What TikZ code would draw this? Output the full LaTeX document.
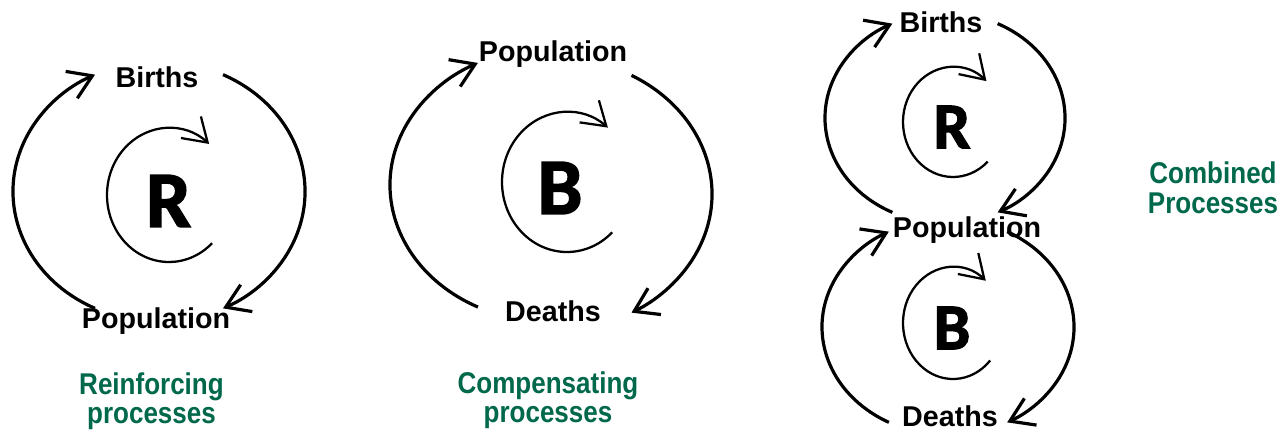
\documentclass[tikz,border=0pt]{standalone}
\usepackage{fontspec}
\setmainfont{Liberation Sans}
\newfontfamily\loopletterfont[BoldFeatures={FakeBold=2}]{Carlito}
\newfontfamily\captionfont[FakeStretch=0.867]{Liberation Sans}
\usetikzlibrary{arrows.meta}
\definecolor{capgreen}{RGB}{0,104,75}
\begin{document}
\begin{tikzpicture}[x=0.75pt,y=0.75pt,
  loophead/.style={-{Straight Barb[length=17pt,width=22pt]}},
  outerloop/.style={line width=2.4pt,loophead},
  innerloop/.style={line width=1.7pt,loophead},
  varlabel/.style={font=\fontsize{21.5}{24}\selectfont\bfseries,inner sep=0pt,anchor=base},
  caption/.style={font=\captionfont\fontsize{22.5}{22}\selectfont\bfseries,text=capgreen,inner sep=0pt,anchor=base},
  bigR/.style={font=\loopletterfont\fontsize{60}{60}\selectfont\bfseries,inner sep=0pt},
  smallR/.style={font=\loopletterfont\fontsize{49}{49}\selectfont\bfseries,inner sep=0pt}]
\useasboundingbox[fill=white] (0,0) rectangle (1280,-432);

% ---- Reinforcing loop ----
\coordinate (o1) at (159,-191.5);
\coordinate (i1) at (169,-195);
\node[varlabel] (b1) at (157,-87) {Births};
\node[varlabel] (p1) at (156,-328) {Population};
\node[bigR] (r1) at (168.5,-201) {R};
\draw[outerloop] (o1) ++(244:146 and 130) arc[start angle=244,end angle=116,x radius=146,y radius=130];
\draw[outerloop] (o1) ++(64:146 and 130) arc[start angle=64,end angle=-64,x radius=146,y radius=130];
\draw[innerloop] (i1) ++(-46:62 and 67) arc[start angle=-46,end angle=-310.4,x radius=62,y radius=67];
\node[caption] (c1a) at (151.5,-394) {Reinforcing};
\node[caption] (c1b) at (151.5,-423) {processes};

% ---- Balancing loop ----
\coordinate (o2l) at (551,-185);
\coordinate (o2r) at (551,-194);
\coordinate (i2) at (567,-182);
\node[varlabel] (p2) at (553,-61) {Population};
\node[varlabel] (d2) at (553,-321) {Deaths};
\node[bigR] (r2) at (560,-188) {B};
\draw[outerloop] (o2l) ++(243:161 and 137) arc[start angle=243,end angle=117,x radius=161,y radius=137];
\draw[outerloop] (o2r) ++(60:161 and 137) arc[start angle=60,end angle=-60,x radius=161,y radius=137];
\draw[innerloop] (i2) ++(-46:65 and 70) arc[start angle=-46,end angle=-309,x radius=65,y radius=70];
\node[caption] (c2a) at (548,-393) {Compensating};
\node[caption] (c2b) at (548,-422) {processes};

% ---- Combined loops ----
\coordinate (o3t) at (945,-118);
\coordinate (i3t) at (953,-122);
\coordinate (o3b) at (948,-327);
\coordinate (i3b) at (953,-323);
\node[varlabel] (b3) at (941,-32) {Births};
\node[varlabel] (p3) at (967,-237) {Population};
\node[varlabel] (d3) at (950,-426) {Deaths};
\node[smallR] (r3) at (952,-127) {R};
\node[smallR] (bb3) at (952,-328) {B};
\draw[outerloop] (o3t) ++(244:120 and 105) arc[start angle=244,end angle=116,x radius=120,y radius=105];
\draw[outerloop] (o3t) ++(64:120 and 105) arc[start angle=64,end angle=-64,x radius=120,y radius=105];
\draw[innerloop] (i3t) ++(-46:50 and 55) arc[start angle=-46,end angle=-312,x radius=50,y radius=55];
\draw[outerloop] (o3b) ++(242:126 and 108) arc[start angle=242,end angle=118,x radius=126,y radius=108];
\draw[outerloop] (o3b) ++(62:126 and 108) arc[start angle=62,end angle=-62,x radius=126,y radius=108];
\draw[innerloop] (i3b) ++(-42:50 and 56) arc[start angle=-42,end angle=-311,x radius=50,y radius=56];
\node[caption] (c3a) at (1213,-183) {Combined};
\node[caption] (c3b) at (1213,-213) {Processes};
\end{tikzpicture}
\end{document}
